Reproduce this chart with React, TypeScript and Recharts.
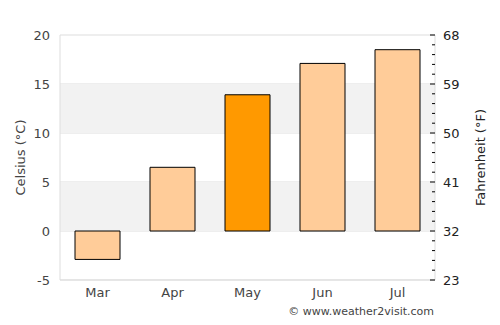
import React from 'react';
import { ComposedChart, Bar, Line, Cell, XAxis, YAxis, CartesianGrid, ReferenceArea } from 'recharts';

const months = ['Mar', 'Apr', 'May', 'Jun', 'Jul'];
const celsius = [-2.9, 6.5, 13.9, 17.1, 18.5];
const highlighted = 'May';

const celsiusTicks = [-5, 0, 5, 10, 15, 20];
const minorTicks = [-5, -4, -3, -2, -1, 0, 1, 2, 3, 4, 5, 6, 7, 8, 9, 10, 11, 12, 13, 14, 15, 16, 17, 18, 19, 20];
const shadedBands = [[0, 5], [10, 15]];

const data = months.map((m, i) => ({ month: m, temp: celsius[i] }));

const FONT = '"DejaVu Sans", sans-serif';

const FahrenheitTick = (props: any) => {
  const { x, y, payload } = props;
  const c = payload.value;
  const major = c % 5 === 0;
  const f = Math.round(c * 9 / 5 + 32);
  return (
    <g>
      <line x1={x - (major ? 5 : 3)} x2={x} y1={y} y2={y} stroke="#000" strokeWidth={1} />
      {major && (
        <text x={x + 8} y={y} dy="0.35em" textAnchor="start" fill="#222" fontSize={13} fontFamily={FONT}>
          {f}
        </text>
      )}
    </g>
  );
};

export default function App() {
  return (
    <div style={{ position: 'absolute', left: 0, top: 0, width: 500, height: 325, background: '#fff', fontFamily: FONT }}>
      <ComposedChart
        width={500}
        height={325}
        data={data}
        margin={{ top: 35, right: 0, bottom: 25, left: 0 }}
        barCategoryGap="20%"
      >
        {shadedBands.map((b, i) => (
          <ReferenceArea key={i} yAxisId="c" y1={b[0]} y2={b[1]} fill="#f2f2f2" fillOpacity={1} stroke="none" ifOverflow="visible" />
        ))}
        <CartesianGrid yAxisId="c" vertical={false} stroke="#dddddd" />
        <XAxis
          dataKey="month"
          height={20}
          tickLine={false}
          axisLine={{ stroke: '#dddddd' }}
          tick={{ fill: '#444', fontSize: 13, fontFamily: FONT }}
        />
        <YAxis
          yAxisId="c"
          width={60}
          domain={[-5, 20]}
          ticks={celsiusTicks}
          interval={0}
          tickLine={false}
          tickSize={6}
          tickMargin={4}
          axisLine={{ stroke: '#dddddd' }}
          tick={{ fill: '#444', fontSize: 13, fontFamily: FONT }}
          label={{ value: 'Celsius (°C)', angle: -90, position: 'insideLeft', offset: 20, style: { textAnchor: 'middle', fill: '#444', fontSize: 13, fontFamily: FONT } }}
        />
        <YAxis
          yAxisId="f"
          orientation="right"
          width={65}
          type="number"
          domain={[-5, 20]}
          allowDataOverflow
          ticks={minorTicks}
          interval={0}
          tickLine={false}
          tickSize={0}
          tickMargin={0}
          axisLine={{ stroke: '#dddddd' }}
          tick={<FahrenheitTick />}
          label={{ value: 'Fahrenheit (°F)', angle: -90, position: 'insideRight', offset: 20, style: { textAnchor: 'middle', fill: '#222', fontSize: 13, fontFamily: FONT } }}
        />
        <Bar dataKey="temp" yAxisId="c" stroke="#000" strokeWidth={1} isAnimationActive={false}>
          {data.map((d, i) => (
            <Cell key={i} fill={d.month === highlighted ? '#ff9900' : '#ffcc99'} />
          ))}
        </Bar>
        <Line dataKey="temp" yAxisId="f" stroke="none" dot={false} activeDot={false} legendType="none" isAnimationActive={false} />
      </ComposedChart>
      <div style={{ position: 'absolute', right: 66, top: 305, fontSize: 11, color: '#444', fontFamily: FONT, whiteSpace: 'nowrap' }}>
        © www.weather2visit.com
      </div>
    </div>
  );
}
